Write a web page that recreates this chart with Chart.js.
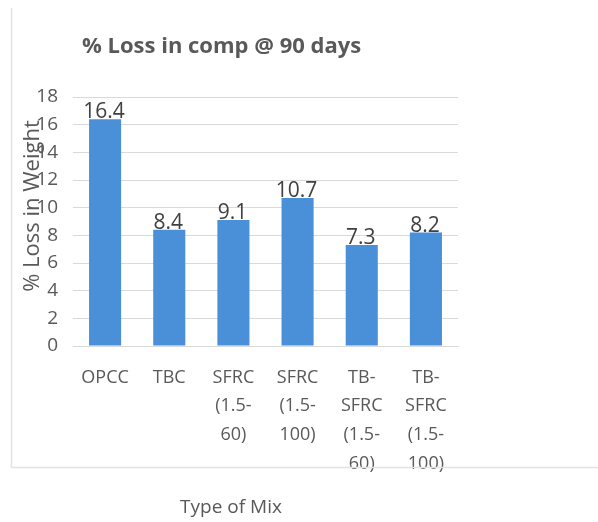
<!DOCTYPE html>
<html>
<head>
<meta charset="utf-8">
<script src="https://cdn.jsdelivr.net/npm/chart.js@4"></script>
<style>
  html, body { margin: 0; padding: 0; background: #fff; }
  #wrap { width: 598px; height: 522px; }
</style>
</head>
<body>
<div id="wrap"><canvas id="canvas" width="598" height="522"></canvas></div>
<script>
// chart data
const mixLabels = [
  ['OPCC'],
  ['TBC'],
  ['SFRC', '(1.5-', '60)'],
  ['SFRC', '(1.5-', '100)'],
  ['TB-', 'SFRC', '(1.5-', '60)'],
  ['TB-', 'SFRC', '(1.5-', '100)']
];
const lossValues = [16.4, 8.4, 9.1, 10.7, 7.3, 8.2];
const yMin = 0;
const yMax = 18;
const yStep = 2;

const chartTitle = '% Loss in comp @ 90 days';
const yTitle = '% Loss in Weight';
const xTitle = 'Type of Mix';

const FONT = "'Open Sans', 'Liberation Sans', sans-serif";
const TEXT = '#595959';

// draws frame, titles and the value labels
const extras = {
  id: 'extras',
  afterDraw(chart) {
    const ctx = chart.ctx;
    const area = chart.chartArea;
    ctx.save();

    // frame edges (left + bottom)
    ctx.strokeStyle = '#e3e3e3';
    ctx.lineWidth = 1.5;
    ctx.beginPath();
    ctx.moveTo(11.5, 8);
    ctx.lineTo(11.5, 467.5);
    ctx.lineTo(598, 467.5);
    ctx.stroke();

    // chart title
    ctx.fillStyle = TEXT;
    ctx.font = 'bold 22px ' + FONT;
    ctx.textAlign = 'left';
    ctx.textBaseline = 'middle';
    ctx.fillText(chartTitle, 82, 47);

    // y title, rotated
    ctx.save();
    ctx.translate(area.left - 40, 206);
    ctx.rotate(-Math.PI / 2);
    ctx.font = '22px ' + FONT;
    ctx.textAlign = 'center';
    ctx.fillText(yTitle, 0, 0);
    ctx.restore();

    // x title
    ctx.font = '19px ' + FONT;
    ctx.textAlign = 'center';
    ctx.fillText(xTitle, 231, 508);

    // value labels above each bar
    ctx.fillStyle = '#404040';
    ctx.font = '21px ' + FONT;
    ctx.textBaseline = 'alphabetic';
    const meta = chart.getDatasetMeta(0);
    meta.data.forEach(function(bar, i) {
      ctx.fillText(String(lossValues[i]), bar.x - 1, bar.y - 1);
    });
    ctx.restore();
  }
};

let options = {
  type: 'bar',
  data: {
    labels: mixLabels,
    datasets: [{
      data: lossValues,
      backgroundColor: '#4a90d9',
      borderWidth: 0,
      categoryPercentage: 1,
      barPercentage: 0.5
    }]
  },
  options: {
    responsive: false,
    animation: false,
    layout: { padding: { top: 97, right: 140, left: 0, bottom: 0 } },
    plugins: {
      legend: { display: false },
      title: { display: false },
      tooltip: { enabled: false }
    },
    scales: {
      x: {
        grid: { display: false, drawTicks: false },
        border: { color: '#d9d9d9' },
        ticks: {
          color: TEXT,
          padding: 17,
          maxRotation: 0,
          autoSkip: false,
          font: { family: FONT, size: 18, lineHeight: 1.6 }
        },
        afterFit(scale) { scale.height = 176; }
      },
      y: {
        min: yMin,
        max: yMax,
        grid: { color: '#d9d9d9', drawTicks: false },
        border: { display: false },
        ticks: {
          stepSize: yStep,
          color: TEXT,
          padding: 15,
          font: { family: FONT, size: 19 }
        },
        afterFit(scale) { scale.width = 73; }
      }
    }
  },
  plugins: [extras]
};

let chart = new Chart(document.getElementById('canvas'), options);
</script>
</body>
</html>
